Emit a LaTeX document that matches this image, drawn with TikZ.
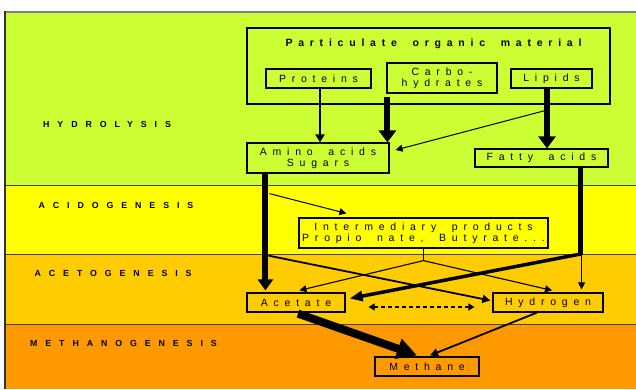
\documentclass[tikz,border=0pt]{standalone}
\usepackage{fontspec}
\setmainfont{Liberation Sans}
\newfontfamily\boxfont[LetterSpace=55,WordSpace=1.8]{Liberation Sans}
\newfontfamily\labfont[LetterSpace=90]{Liberation Sans}
\usetikzlibrary{arrows.meta,calc}
\definecolor{hgreen}{HTML}{CCFF33}
\definecolor{hyellow}{HTML}{FFFF00}
\definecolor{horange}{HTML}{FFCC00}
\definecolor{hdorange}{HTML}{FF9900}
\begin{document}
\begin{tikzpicture}[x=1pt,y=-1pt,
  bx/.style={draw=black,line width=1.2pt,inner sep=0pt,font=\boxfont\fontsize{10.5}{11}\selectfont,align=center},
  lab/.style={anchor=west,inner sep=0pt,font=\labfont\bfseries\fontsize{8.8}{10}\selectfont},
  thin/.style={line width=1pt,-{Triangle[length=7pt,width=7pt]}},
  med/.style={line width=2pt,-{Triangle[length=8pt,width=9pt]}},
  thick/.style={line width=6pt,-{Triangle[length=12pt,width=17pt]}},
  sep/.style={draw=black!75,line width=0.8pt}
]
\useasboundingbox (0,0) rectangle (636,389);
\fill[white] (0,0) rectangle (636,389);
\fill[hgreen] (5,12) rectangle (636,185);
\fill[hyellow] (5,185) rectangle (636,254);
\fill[horange] (5,254) rectangle (636,324);
\fill[hdorange] (5,324) rectangle (636,389);
\draw[sep] (5,185) -- (636,185);
\draw[sep] (5,254) -- (636,254);
\draw[sep] (5,324) -- (636,324);
\draw[gray,line width=1.5pt] (5,12) -- (636,12);
\draw[black!80,line width=2pt] (5,11.25) -- (5,389);

% stage labels
\node[lab] (l1) at (43,124) {HYDROLYSIS};
\node[lab] (l2) at (38.5,205) {ACIDOGENESIS};
\node[lab] (l3) at (34.5,273) {ACETOGENESIS};
\node[lab] (l4) at (30,343) {METHANOGENESIS};

% boxes
\node[bx,minimum width=363pt,minimum height=76pt] (pom) at (428.5,66) {};
\node[inner sep=0pt,font=\boxfont\bfseries\fontsize{10.5}{11}\selectfont] (pomt) at (433.5,44) {Particulate organic material};
\node[bx,minimum width=105pt,minimum height=19pt] (prot) at (318.5,78.5) {Proteins};
\node[bx,minimum width=110pt,minimum height=30pt] (carb) at (442,78) {Carbo-\\hydrates};
\node[bx,minimum width=81pt,minimum height=19pt] (lip) at (551.5,78.5) {Lipids};
\node[bx,minimum width=142pt,minimum height=30pt] (amino) at (318,158) {Amino acids\\Sugars};
\node[bx,minimum width=133pt,minimum height=18pt] (fat) at (541.5,158) {Fatty acids};
\node[bx,minimum width=249pt,minimum height=30pt] (inter) at (423.5,233) {Intermediary products\\Propio nate, Butyrate...};
\node[bx,minimum width=98pt,minimum height=19pt] (acet) at (296,302.5) {Acetate};
\node[bx,minimum width=110pt,minimum height=19pt] (hyd) at (548,302.5) {Hydrogen};
\node[bx,minimum width=104pt,minimum height=19pt] (meth) at (427,366.5) {Methane};

% helper coordinates
\coordinate (cstem) at ($(carb.south west)+(1,3)$);
\coordinate (lstem) at ($(lip.south)+(-4.5,0)$);
\coordinate (astem) at ($(amino.south west)+(19,0)$);
\coordinate (fstem) at ($(fat.south east)+(-28,0)$);
\coordinate (fcorner) at (fstem |- 0,255);
\coordinate (isplit) at ($(inter.south)+(0,12)$);

% hydrolysis
\draw[med] (prot.south -| 320,0) -- (amino.north -| 320,0);
\draw[thick] (cstem) -- (cstem |- amino.north);
\draw[thick] (lstem) -- (lstem |- fat.north);
\draw[thin] ($(lstem)+(-2,22)$) -- ($(amino.east)+(6,-8)$);

% acidogenesis / acetogenesis
\draw[thick,-{Triangle[length=11pt,width=15pt]}] (astem) -- ($(acet.north west)+(19,-2)$);
\draw[thin] ($(astem)+(4,20)$) -- ($(inter.north west)+(48,-4)$);
\draw[line width=1.8pt,-{Triangle[length=8pt,width=8pt]}] ($(astem)+(3,82)$) -- ($(hyd.west)+(-2,-2)$);
\draw[line width=5pt] (fstem) -- (fcorner);
\draw[line width=3.5pt,-{Triangle[length=13pt,width=10pt]}] ($(fcorner)+(0,-1)$) -- ($(acet.east)+(4,-4)$);
\draw[thin] ($(fcorner)+(1,0)$) -- ($(hyd.north east)+(-22,-3)$);
\draw[line width=1.1pt] (inter.south) -- (isplit);
\draw[thin,line width=1.1pt] (isplit) -- ($(acet.north west)+(53,-2)$);
\draw[thin,line width=1.1pt] (isplit) -- ($(hyd.north)+(4,-2)$);
\draw[line width=1.2pt,dashed,dash pattern=on 4pt off 3pt,{Triangle[length=6pt,width=7pt]}-{Triangle[length=6pt,width=7pt]}] ($(acet.east)+(23,4.5)$) -- ($(hyd.west)+(-18,4.5)$);

% methanogenesis
\draw[line width=8pt,-{Triangle[length=20pt,width=20pt]}] ($(acet.south)+(2,1)$) -- ($(meth.north)+(-10,-1)$);
\draw[line width=1.8pt,-{Triangle[length=8pt,width=8pt]}] ($(hyd.south)+(-11,0)$) -- ($(meth.north)+(3,-1)$);
\end{tikzpicture}
\end{document}
